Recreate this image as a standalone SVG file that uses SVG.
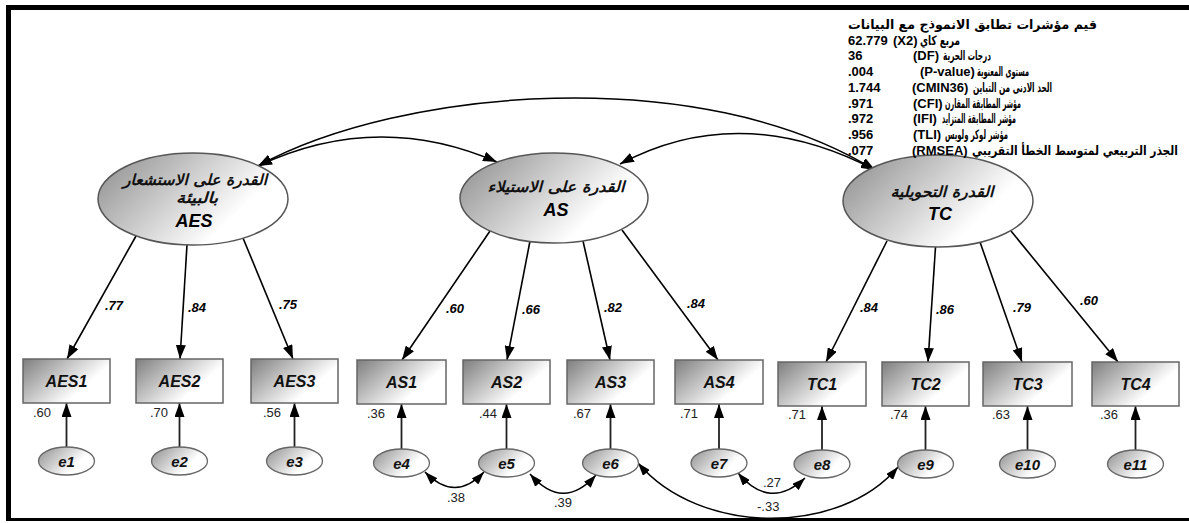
<svg xmlns="http://www.w3.org/2000/svg" width="1189" height="523" viewBox="0 0 1189 523">
<defs>
<linearGradient id="gl" x1="0" y1="0" x2="1" y2="0.5"><stop offset="0" stop-color="#8a8a8a"/><stop offset="0.85" stop-color="#ffffff"/></linearGradient>
<linearGradient id="gb" x1="0" y1="0" x2="1" y2="0.6"><stop offset="0" stop-color="#7e7e7e"/><stop offset="0.8" stop-color="#ffffff"/></linearGradient>
<linearGradient id="ge" x1="0" y1="0" x2="1" y2="0.5"><stop offset="0" stop-color="#8e8e8e"/><stop offset="0.8" stop-color="#ffffff"/></linearGradient>
<marker id="ah" viewBox="0 0 14 10" refX="14" refY="5" markerWidth="14" markerHeight="10" markerUnits="userSpaceOnUse" orient="auto-start-reverse"><path d="M0,0 L14,5 L0,10 z" fill="#000"/></marker>
<marker id="as" viewBox="0 0 13 9" refX="13" refY="4.5" markerWidth="13" markerHeight="9" markerUnits="userSpaceOnUse" orient="auto-start-reverse"><path d="M0,0 L13,4.5 L0,9 z" fill="#000"/></marker>
</defs>
<style>
.lat{fill:url(#gl);stroke:#555;stroke-width:1.5}
.box{fill:url(#gb);stroke:#666;stroke-width:1.5}
.err{fill:url(#ge);stroke:#666;stroke-width:1.3}
.ld{stroke:#000;stroke-width:1.6;fill:none;marker-end:url(#ah)}
.ea{stroke:#222;stroke-width:1.8;fill:none;marker-end:url(#ah)}
.cv{stroke:#000;stroke-width:1.5;fill:none;marker-start:url(#ah);marker-end:url(#ah)}
.cs{stroke:#000;stroke-width:1.5;fill:none;marker-start:url(#as);marker-end:url(#as)}
.lt{font-family:'Liberation Sans',Arial,sans-serif;font-weight:bold;font-style:italic;fill:#000}
.ar{font-family:'DejaVu Sans',sans-serif;font-weight:bold;font-style:italic;fill:#111}
.bx{font-family:'Liberation Sans',Arial,sans-serif;font-weight:bold;font-style:italic;font-size:16px;text-anchor:middle;fill:#111}
.et{font-family:'Liberation Sans',Arial,sans-serif;font-weight:bold;font-style:italic;font-size:15px;text-anchor:middle;fill:#111}
.lw{font-family:'Liberation Sans',Arial,sans-serif;font-weight:bold;font-style:italic;font-size:13px;text-anchor:middle;fill:#000}
.vr{font-family:'Liberation Sans',Arial,sans-serif;font-size:13px;fill:#222}
.fn{font-family:'Liberation Sans',Arial,sans-serif;font-weight:bold;font-size:13px;fill:#000}
.fa{font-family:'DejaVu Sans',sans-serif;font-weight:bold;font-size:13px;fill:#000}
</style>
<rect width="1189" height="523" fill="#fff"/>
<g id="frame">
<rect x="6" y="5" width="1183" height="5" fill="#000"/>
<rect x="6" y="5" width="5" height="516" fill="#000"/>
<rect x="6" y="518" width="1183" height="3" fill="#000"/>
</g>
<g id="connectors">
<path class="cv" d="M258,166 Q377,110 497,162"/>
<path class="cv" d="M258,166 C400,88 700,62 875,170"/>
<path class="cv" d="M620,164 Q740,100 875,170"/>
<line class="ld" x1="136" y1="236" x2="67" y2="359"/>
<line class="ld" x1="187" y1="245" x2="180" y2="359"/>
<line class="ld" x1="243" y1="238" x2="293" y2="359"/>
<line class="ld" x1="490" y1="231" x2="402" y2="360"/>
<line class="ld" x1="530" y1="241" x2="507" y2="360"/>
<line class="ld" x1="583" y1="241" x2="610" y2="360"/>
<line class="ld" x1="622" y1="230" x2="718" y2="360"/>
<line class="ld" x1="887" y1="241" x2="826" y2="362"/>
<line class="ld" x1="935.5" y1="247" x2="928" y2="362"/>
<line class="ld" x1="980" y1="242" x2="1022" y2="362"/>
<line class="ld" x1="1011" y1="231" x2="1118" y2="362"/>
<line class="ea" x1="66.5" y1="447" x2="66.5" y2="403"/>
<line class="ea" x1="179.5" y1="447" x2="179.5" y2="403"/>
<line class="ea" x1="294.5" y1="447" x2="294.5" y2="403"/>
<line class="ea" x1="401.5" y1="449" x2="401.5" y2="404"/>
<line class="ea" x1="506.5" y1="449" x2="506.5" y2="404"/>
<line class="ea" x1="610.5" y1="449" x2="610.5" y2="404"/>
<line class="ea" x1="719" y1="449" x2="719" y2="404"/>
<line class="ea" x1="822" y1="450" x2="822" y2="406"/>
<line class="ea" x1="925.5" y1="450" x2="925.5" y2="406"/>
<line class="ea" x1="1027.5" y1="450" x2="1027.5" y2="406"/>
<line class="ea" x1="1135.5" y1="450" x2="1135.5" y2="406"/>
<path class="cs" d="M425,472 Q455,503 484,472"/>
<path class="cs" d="M530,474 Q563,512 596,475"/>
<path class="cs" d="M738,473 Q770,511 805,478"/>
<path class="cs" d="M638,463 C700,536 840,536 898,467"/>
<text class="lw" x="114" y="309.5">.77</text>
<text class="lw" x="197" y="311.5">.84</text>
<text class="lw" x="288" y="308.5">.75</text>
<text class="lw" x="455" y="312.5">.60</text>
<text class="lw" x="531" y="313.5">.66</text>
<text class="lw" x="613" y="311.5">.82</text>
<text class="lw" x="696" y="307.5">.84</text>
<text class="lw" x="869" y="311.5">.84</text>
<text class="lw" x="945" y="313.5">.86</text>
<text class="lw" x="1022" y="311.5">.79</text>
<text class="lw" x="1089" y="304.5">.60</text>
<text class="vr" x="447" y="502">.38</text>
<text class="vr" x="554" y="507">.39</text>
<text class="vr" x="757" y="511">-.33</text>
<text class="vr" x="763" y="487">.27</text>
</g>
<g id="AES">
<ellipse class="lat" cx="193" cy="199" rx="95" ry="46"/>
<text class="ar" x="195" y="185" font-size="15" text-anchor="middle" textLength="144" lengthAdjust="spacingAndGlyphs">القدرة على الاستشعار</text>
<text class="ar" x="197" y="203" font-size="15" text-anchor="middle" textLength="42" lengthAdjust="spacingAndGlyphs">بالبيئة</text>
<text class="lt" x="194" y="227" font-size="18" text-anchor="middle">AES</text>
</g>
<g id="AS">
<ellipse class="lat" cx="554" cy="198" rx="94" ry="45"/>
<text class="ar" x="556" y="192" font-size="15" text-anchor="middle" textLength="137" lengthAdjust="spacingAndGlyphs">القدرة على الاستيلاء</text>
<text class="lt" x="556" y="216" font-size="18" text-anchor="middle">AS</text>
</g>
<g id="TC">
<ellipse class="lat" cx="938" cy="201" rx="95" ry="46"/>
<text class="ar" x="942" y="197" font-size="15" text-anchor="middle" textLength="103" lengthAdjust="spacingAndGlyphs">القدرة التحويلية</text>
<text class="lt" x="940" y="220" font-size="18" text-anchor="middle">TC</text>
</g>
<g id="AES1"><rect class="box" x="23" y="359" width="87" height="44"/><text class="bx" x="66.5" y="387">AES1</text></g>
<g id="AES2"><rect class="box" x="136" y="359" width="87" height="44"/><text class="bx" x="179.5" y="387">AES2</text></g>
<g id="AES3"><rect class="box" x="251" y="359" width="87" height="44"/><text class="bx" x="294.5" y="387">AES3</text></g>
<g id="AS1"><rect class="box" x="357" y="360" width="89" height="44"/><text class="bx" x="401.5" y="388">AS1</text></g>
<g id="AS2"><rect class="box" x="463" y="360" width="87" height="44"/><text class="bx" x="506.5" y="388">AS2</text></g>
<g id="AS3"><rect class="box" x="567" y="360" width="87" height="44"/><text class="bx" x="610.5" y="388">AS3</text></g>
<g id="AS4"><rect class="box" x="675" y="360" width="88" height="44"/><text class="bx" x="719" y="388">AS4</text></g>
<g id="TC1"><rect class="box" x="778" y="362" width="88" height="44"/><text class="bx" x="822" y="390">TC1</text></g>
<g id="TC2"><rect class="box" x="882" y="362" width="87" height="44"/><text class="bx" x="925.5" y="390">TC2</text></g>
<g id="TC3"><rect class="box" x="983" y="362" width="89" height="44"/><text class="bx" x="1027.5" y="390">TC3</text></g>
<g id="TC4"><rect class="box" x="1092" y="362" width="87" height="44"/><text class="bx" x="1135.5" y="390">TC4</text></g>
<g id="variances">
<text class="vr" x="33" y="417">.60</text>
<text class="vr" x="150" y="417">.70</text>
<text class="vr" x="263" y="417">.56</text>
<text class="vr" x="367" y="418">.36</text>
<text class="vr" x="479" y="418">.44</text>
<text class="vr" x="573" y="418">.67</text>
<text class="vr" x="680" y="418">.71</text>
<text class="vr" x="788" y="419">.71</text>
<text class="vr" x="890" y="419">.74</text>
<text class="vr" x="992" y="419">.63</text>
<text class="vr" x="1100" y="419">.36</text>
</g>
<g id="e1"><ellipse class="err" cx="66.5" cy="461" rx="28" ry="14"/><text class="et" x="66.5" y="466.5">e1</text></g>
<g id="e2"><ellipse class="err" cx="179.5" cy="461" rx="28" ry="14"/><text class="et" x="179.5" y="466.5">e2</text></g>
<g id="e3"><ellipse class="err" cx="294.5" cy="461" rx="28" ry="14"/><text class="et" x="294.5" y="466.5">e3</text></g>
<g id="e4"><ellipse class="err" cx="401.5" cy="463" rx="28" ry="14"/><text class="et" x="401.5" y="468.5">e4</text></g>
<g id="e5"><ellipse class="err" cx="506.5" cy="463" rx="28" ry="14"/><text class="et" x="506.5" y="468.5">e5</text></g>
<g id="e6"><ellipse class="err" cx="610.5" cy="463" rx="28" ry="14"/><text class="et" x="610.5" y="468.5">e6</text></g>
<g id="e7"><ellipse class="err" cx="719" cy="463" rx="28" ry="14"/><text class="et" x="719" y="468.5">e7</text></g>
<g id="e8"><ellipse class="err" cx="822" cy="464" rx="28" ry="14"/><text class="et" x="822" y="469.5">e8</text></g>
<g id="e9"><ellipse class="err" cx="925.5" cy="464" rx="28" ry="14"/><text class="et" x="925.5" y="469.5">e9</text></g>
<g id="e10"><ellipse class="err" cx="1027.5" cy="464" rx="28" ry="14"/><text class="et" x="1027.5" y="469.5">e10</text></g>
<g id="e11"><ellipse class="err" cx="1135.5" cy="464" rx="28" ry="14"/><text class="et" x="1135.5" y="469.5">e11</text></g>
<g id="fit">
<text class="fa" x="848" y="28.5" textLength="249" lengthAdjust="spacingAndGlyphs">قيم مؤشرات تطابق الانموذج مع البيانات</text>
<text class="fn" x="848" y="44.5">62.779</text><text class="fn" x="893" y="44.5">(X2)</text><text class="fa" x="920" y="44.5" textLength="40" lengthAdjust="spacingAndGlyphs">مربع كاي</text>
<text class="fn" x="848" y="60">36</text><text class="fn" x="913" y="60">(DF)</text><text class="fa" x="943" y="60" textLength="48" lengthAdjust="spacingAndGlyphs">درجات الحرية</text>
<text class="fn" x="848" y="75.5">.004</text><text class="fn" x="920" y="75.5">(P-value)</text><text class="fa" x="977" y="75.5" textLength="52" lengthAdjust="spacingAndGlyphs">مستوى المعنوية</text>
<text class="fn" x="848" y="91.5">1.744</text><text class="fn" x="912" y="91.5">(CMIN36)</text><text class="fa" x="973" y="91.5" textLength="79" lengthAdjust="spacingAndGlyphs">الحد الادنى من التباين</text>
<text class="fn" x="848" y="107.5">.971</text><text class="fn" x="913" y="107.5">(CFI)</text><text class="fa" x="945" y="107.5" textLength="76" lengthAdjust="spacingAndGlyphs">مؤشر المطابقة المقارن</text>
<text class="fn" x="848" y="123">.972</text><text class="fn" x="913" y="123">(IFI)</text><text class="fa" x="942" y="123" textLength="74" lengthAdjust="spacingAndGlyphs">مؤشر المطابقة المتزايد</text>
<text class="fn" x="848" y="138.5">.956</text><text class="fn" x="913" y="138.5">(TLI)</text><text class="fa" x="945" y="138.5" textLength="63" lengthAdjust="spacingAndGlyphs">مؤشر لوكر ولويس</text>
<text class="fn" x="848" y="154.5">.077</text><text class="fn" x="912" y="154.5">(RMSEA)</text><text class="fa" x="972" y="154.5" font-size="11" textLength="206" lengthAdjust="spacingAndGlyphs">الجذر التربيعي لمتوسط الخطأ التقريبي</text>
</g>
</svg>
